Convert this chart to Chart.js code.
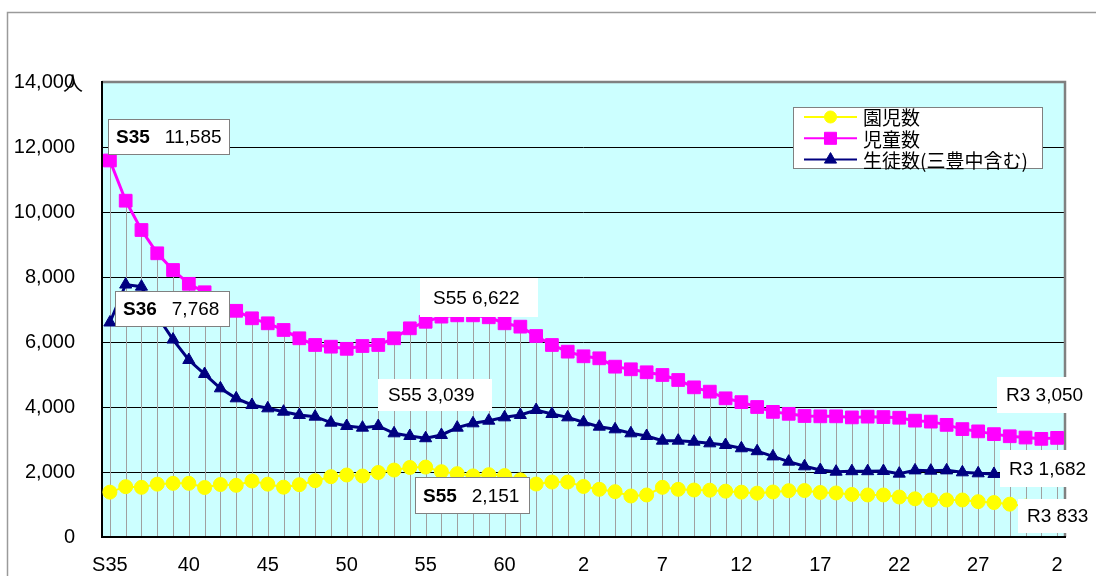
<!DOCTYPE html>
<html><head><meta charset="utf-8">
<script src="https://cdn.jsdelivr.net/npm/chart.js@4.4.0/dist/chart.umd.min.js"></script>
<style>html,body{margin:0;padding:0;background:#fff;}#wrap{width:1096px;height:576px;}</style>
</head><body><div id="wrap"><canvas id="c" width="1096" height="576"></canvas></div>
<script>
// ---- data ----
const categories = ["S35","36","37","38","39","40","41","42","43","44","45","46","47","48","49","50","51","52","53","54","55","56","57","58","59","60","61","62","63","H1","2","3","4","5","6","7","8","9","10","11","12","13","14","15","16","17","18","19","20","21","22","23","24","25","26","27","28","29","30","R1","2"];
const seriesNames = ["園児数","児童数","生徒数(三豊中含む)"];
const kindergarten = [1380,1549,1528,1626,1651,1651,1523,1615,1590,1723,1626,1533,1610,1733,1856,1908,1877,1985,2060,2140,2151,2010,1950,1880,1918,1890,1760,1630,1690,1690,1555,1467,1395,1262,1293,1528,1467,1446,1440,1410,1380,1350,1385,1425,1430,1370,1355,1310,1293,1293,1230,1175,1139,1139,1139,1087,1060,1010,950,890,833];
const elementary = [11585,10348,9446,8729,8215,7790,7530,7250,6960,6729,6575,6370,6114,5908,5856,5790,5877,5908,6114,6421,6622,6780,6820,6820,6760,6575,6472,6185,5908,5703,5560,5498,5241,5160,5068,4985,4831,4605,4472,4267,4150,4000,3850,3790,3723,3713,3713,3680,3703,3690,3670,3580,3550,3450,3320,3250,3165,3100,3060,3020,3050];
const junior = [6600,7768,7703,6800,6075,5446,5015,4575,4267,4062,3959,3856,3754,3703,3518,3415,3364,3415,3190,3108,3039,3139,3364,3498,3579,3682,3754,3908,3785,3682,3530,3395,3313,3190,3108,2964,2964,2933,2882,2831,2730,2640,2480,2318,2175,2062,2010,2025,2025,2030,1950,2050,2041,2050,1990,1960,1940,1900,1850,1760,1682];
const yMin = 0, yMax = 14000, yStep = 2000;
const unitLabel = "人";
const callouts = [
  {series:1, index:0,  strong:"S35", text:"11,585"},
  {series:2, index:1,  strong:"S36", text:"7,768"},
  {series:1, index:20, strong:"",    text:"S55 6,622"},
  {series:2, index:20, strong:"",    text:"S55 3,039"},
  {series:0, index:20, strong:"S55", text:"2,151"},
  {series:1, index:60, strong:"",    text:"R3 3,050"},
  {series:2, index:60, strong:"",    text:"R3 1,682"},
  {series:0, index:60, strong:"",    text:"R3 833"}
];

// ---- styling ----
const calloutBoxes = [
  {dx:-2,  dy:-41, w:122, h:36, frame:true,  pad:8},
  {dx:-11, dy:6,   w:115, h:36, frame:true,  pad:8},
  {dx:-6,  dy:-44, w:118, h:39, frame:false, pad:13},
  {dx:-48, dy:-59, w:114, h:32, frame:false, pad:10},
  {dx:-11, dy:10,  w:115, h:37, frame:true,  pad:8},
  {dx:-60, dy:-61, w:97,  h:36, frame:false, pad:9},
  {dx:-57, dy:-32, w:94,  h:37, frame:false, pad:9},
  {dx:-39, dy:-11, w:80,  h:34, frame:false, pad:9}
];
const FONT = '"Liberation Sans", Arial, sans-serif';
const CJK = '"Noto Sans CJK JP", "Noto Sans", sans-serif';

const framePlugin = {
  id:'frame',
  beforeDraw(chart){
    const {ctx, chartArea:a} = chart;
    ctx.save();
    ctx.fillStyle='#fff'; ctx.fillRect(0,0,chart.width,chart.height);
    ctx.strokeStyle='#9a9a9a'; ctx.lineWidth=1.5;
    ctx.beginPath(); ctx.moveTo(7.5,chart.height); ctx.lineTo(7.5,12.5); ctx.lineTo(chart.width,12.5); ctx.stroke();
    ctx.fillStyle='#CCFFFF'; ctx.fillRect(a.left,a.top,a.right-a.left,a.bottom-a.top);
    ctx.restore();
  },
  beforeDatasetsDraw(chart){
    const {ctx, chartArea:a} = chart;
    const metas = chart.data.datasets.map((d,i)=>chart.getDatasetMeta(i));
    ctx.save();
    ctx.strokeStyle='#a0a0a0'; ctx.lineWidth=1;
    for(let i=0;i<chart.data.labels.length;i++){
      let top=Infinity, x=null;
      metas.forEach(m=>{const p=m.data[i]; if(p){top=Math.min(top,p.y); x=p.x;}});
      const xx=Math.round(x)+0.5;
      ctx.beginPath(); ctx.moveTo(xx,top); ctx.lineTo(xx,a.bottom); ctx.stroke();
    }
    ctx.strokeStyle='#808080'; ctx.lineWidth=2.5;
    ctx.beginPath(); ctx.moveTo(a.left,a.top); ctx.lineTo(a.right,a.top); ctx.lineTo(a.right,a.bottom); ctx.stroke();
    ctx.strokeStyle='#000'; ctx.lineWidth=2;
    ctx.beginPath(); ctx.moveTo(a.left,a.top-1); ctx.lineTo(a.left,a.bottom); ctx.lineTo(a.right+1,a.bottom); ctx.stroke();
    ctx.restore();
  },
  afterDraw(chart){
    const {ctx, chartArea:a} = chart;
    ctx.save();
    // unit
    ctx.fillStyle='#000'; ctx.font='20px '+CJK; ctx.textAlign='center'; ctx.textBaseline='middle';
    ctx.fillText(unitLabel, a.left-29, a.top+1);
    // legend
    const L={x:a.right-272, y:a.top+25, w:249, h:61};
    ctx.fillStyle='#fff'; ctx.fillRect(L.x,L.y,L.w,L.h);
    ctx.strokeStyle='#808080'; ctx.lineWidth=1; ctx.strokeRect(L.x+0.5,L.y+0.5,L.w,L.h);
    const legendRadius=[6,8.5,7];
    chart.data.datasets.forEach((ds,i)=>{
      const cy=L.y+10+i*21.3;
      ctx.strokeStyle=ds.borderColor; ctx.lineWidth=2;
      ctx.beginPath(); ctx.moveTo(L.x+11,cy); ctx.lineTo(L.x+64,cy); ctx.stroke();
      ctx.fillStyle=ds.backgroundColor; ctx.strokeStyle=ds.borderColor; ctx.lineWidth=1;
      Chart.helpers.drawPoint(ctx,{pointStyle:ds.pointStyle,radius:legendRadius[i],borderWidth:1,rotation:0},L.x+37.5,cy);
      ctx.fillStyle='#000'; ctx.font='19px '+CJK; ctx.textAlign='left'; ctx.textBaseline='middle';
      ctx.fillText(ds.label, L.x+70, cy+1);
    });
    // callouts
    callouts.forEach((c,k)=>{
      const b=calloutBoxes[k];
      const p=chart.getDatasetMeta(c.series).data[c.index];
      const bx=Math.round(p.x+b.dx), by=Math.round(p.y+b.dy);
      ctx.fillStyle='#fff'; ctx.fillRect(bx,by,b.w,b.h);
      if(b.frame){ctx.strokeStyle='#808080'; ctx.lineWidth=1; ctx.strokeRect(bx+0.5,by+0.5,b.w-1,b.h-1);}
      ctx.fillStyle='#000'; ctx.textAlign='left'; ctx.textBaseline='middle';
      let tx=bx+b.pad; const ty=by+b.h/2+1;
      if(c.strong){ctx.font='bold 19px '+FONT; ctx.fillText(c.strong,tx,ty); tx+=ctx.measureText(c.strong).width+15;}
      ctx.font='19px '+FONT; ctx.fillText(c.text,tx,ty);
    });
    ctx.restore();
  }
};

new Chart(document.getElementById('c'), {
  type:'line',
  data:{
    labels:categories,
    datasets:[
      {label:seriesNames[0], data:kindergarten, borderColor:'#FFFF00', backgroundColor:'#FFFF00', borderWidth:2, pointStyle:'circle', pointRadius:7, pointBorderWidth:1, tension:0, order:3},
      {label:seriesNames[1], data:elementary, borderColor:'#FF00FF', backgroundColor:'#FF00FF', borderWidth:3, pointStyle:'rect', pointRadius:9, pointBorderWidth:1, tension:0, order:2},
      {label:seriesNames[2], data:junior, borderColor:'#000080', backgroundColor:'#000080', borderWidth:3, pointStyle:'triangle', pointRadius:7, pointBorderWidth:1, tension:0, order:1}
    ]
  },
  options:{
    responsive:false, animation:false, devicePixelRatio:1,
    layout:{padding:{top:82,right:31,left:0,bottom:0}},
    plugins:{legend:{display:false}, tooltip:{enabled:false}},
    scales:{
      x:{offset:true, grid:{display:false, drawTicks:false}, border:{display:false},
         ticks:{autoSkip:false, maxRotation:0, minRotation:0, padding:16, color:'#000', font:{family:FONT,size:20},
                callback:(v,i)=> i%5===0 ? categories[i] : ''},
         afterFit:s=>{s.height=39;}},
      y:{min:yMin, max:yMax, grid:{color:'#000', lineWidth:1, drawTicks:false}, border:{display:false},
         ticks:{stepSize:yStep, padding:27, color:'#000', font:{family:FONT,size:20},
                callback:v=>v.toLocaleString('en-US')},
         afterFit:s=>{s.width=102;}}
    }
  },
  plugins:[framePlugin]
});
</script></body></html>
